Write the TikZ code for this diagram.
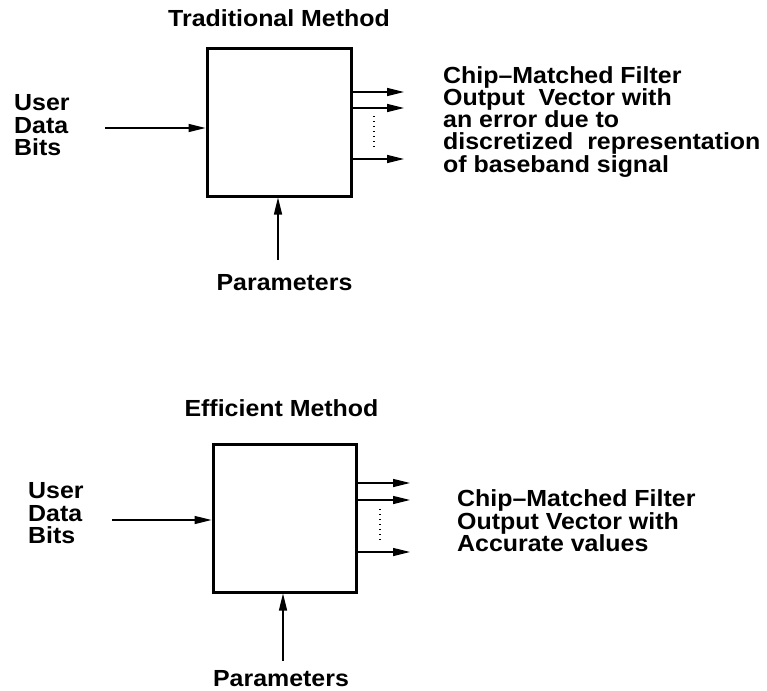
\documentclass[tikz,border=0pt]{standalone}
\usepackage{fontspec}
\setmainfont{Liberation Sans}
\newfontfamily\figfont{Liberation Sans}[FakeStretch=1.07,Ligatures=TeX]
\usetikzlibrary{arrows.meta}
\begin{document}
\begin{tikzpicture}[x=1pt,y=-1pt,
  blk/.style={draw,line width=3pt,rectangle,inner sep=0pt},
  conn/.style={line width=1.3pt,-{Triangle[length=17pt,width=8pt]}},
  dots/.style={line width=1.2pt,dash pattern=on 1.2pt off 3.8pt},
  lbl/.style={inner sep=0pt,font=\figfont\fontsize{23.3}{22.3}\selectfont\bfseries},
  mlbl/.style={lbl,align=left,anchor=north west}]
\useasboundingbox (0,0) rectangle (767,690);
% ---------- Traditional ----------
\node[lbl,anchor=base] (t1) at (279,26.5) {Traditional Method};
\node[blk,minimum width=144pt,minimum height=147pt] (b1) at (279,122.5) {};
\node[mlbl] (u1) at (14,94.6) {User\\Data\\Bits};
\node[mlbl] (o1) at (443,66) {Chip–Matched Filter\\Output\ \ Vector with\\an error due to\\discretized\ \ representation\\of baseband signal};
\node[lbl,anchor=base] (p1) at (284.5,290) {Parameters};
\coordinate (i1) at (105,128);
\coordinate (q1) at (278,260);
\coordinate (e1a) at (404,92);
\coordinate (e1b) at (404,108);
\coordinate (e1c) at (404,159);
\coordinate (d1a) at (374,116);
\coordinate (d1b) at (374,147);
\draw[conn] (i1) -- (i1 -| b1.west);
\draw[conn] (q1) -- (q1 |- b1.south);
\draw[conn] (e1a -| b1.east) -- (e1a);
\draw[conn] (e1b -| b1.east) -- (e1b);
\draw[conn] (e1c -| b1.east) -- (e1c);
\draw[dots] (d1a) -- (d1b);
% ---------- Efficient ----------
\node[lbl,anchor=base] (t2) at (281.5,416.5) {Efficient Method};
\node[blk,minimum width=143pt,minimum height=148pt] (b2) at (284.5,518) {};
\node[mlbl] (u2) at (28,482.6) {User\\Data\\Bits};
\node[mlbl] (o2) at (457,489.8) {Chip–Matched Filter\\Output Vector with\\Accurate values};
\node[lbl,anchor=base] (p2) at (281,686) {Parameters};
\coordinate (i2) at (112,520);
\coordinate (q2) at (283,661);
\coordinate (e2a) at (410,483);
\coordinate (e2b) at (410,500);
\coordinate (e2c) at (410,552);
\coordinate (d2a) at (380,509);
\coordinate (d2b) at (380,540);
\draw[conn] (i2) -- (i2 -| b2.west);
\draw[conn] (q2) -- (q2 |- b2.south);
\draw[conn] (e2a -| b2.east) -- (e2a);
\draw[conn] (e2b -| b2.east) -- (e2b);
\draw[conn] (e2c -| b2.east) -- (e2c);
\draw[dots] (d2a) -- (d2b);
\end{tikzpicture}
\end{document}
